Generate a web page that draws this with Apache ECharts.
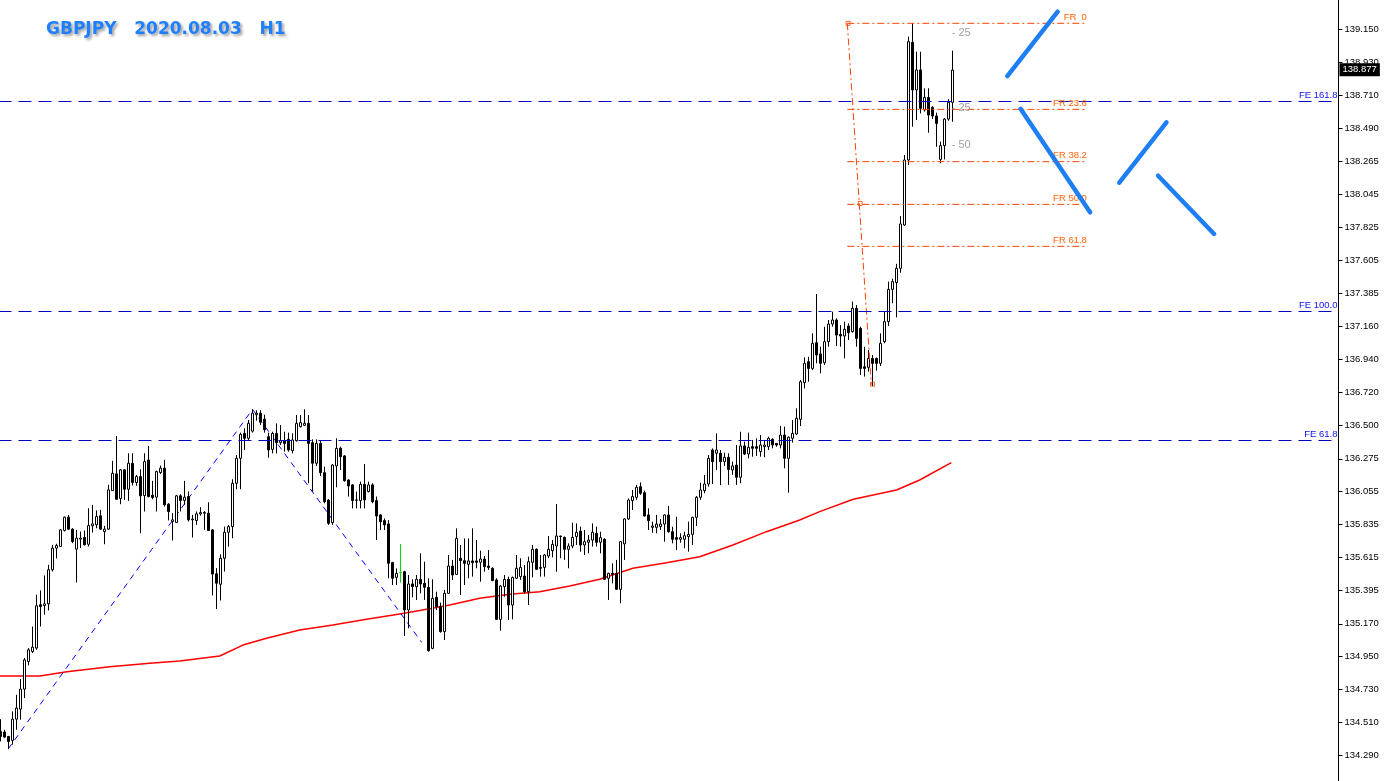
<!DOCTYPE html>
<html>
<head>
<meta charset="utf-8">
<script src="https://cdn.jsdelivr.net/npm/echarts@6/dist/echarts.min.js"></script>
<style>
html,body{margin:0;padding:0;background:#ffffff;overflow:hidden;}
#chart{position:absolute;left:-2px;top:0;width:1390px;height:781px;}
</style>
</head>
<body>
<div id="chart"></div>
<script>
// ---------- data ----------
const titleText = 'GBPJPY   2020.08.03   H1';
const tickLabels = ['134.290','134.510','134.730','134.950','135.170','135.395','135.615','135.835','136.055','136.275','136.500','136.720','136.940','137.160','137.385','137.605','137.825','138.045','138.265','138.490','138.710','138.930','139.150'];

const opens = [
134.450,134.446,134.416,134.390,134.532,134.599,134.733,134.918,134.985,135.008,
135.298,135.293,135.304,135.532,135.677,135.688,135.795,135.884,135.804,135.670,
135.737,135.748,135.703,135.826,135.833,135.893,135.788,135.804,136.062,136.174,
136.009,136.201,136.071,136.245,136.116,136.156,136.029,136.267,136.031,136.018,
136.183,136.212,135.971,135.855,135.848,136.027,135.996,136.022,135.871,135.862,
135.906,135.915,135.911,135.799,135.505,135.435,135.609,135.783,135.821,136.111,
136.278,136.445,136.412,136.460,136.570,136.580,136.540,136.423,136.338,136.445,
136.383,136.396,136.405,136.329,136.396,136.490,136.499,136.512,136.383,136.245,
136.378,136.182,135.999,135.847,136.227,136.345,136.294,136.133,136.100,135.997,
135.995,136.104,136.055,136.100,135.995,135.899,135.861,135.839,135.580,135.481,
135.515,135.519,135.263,135.437,135.419,135.468,135.441,135.414,135.006,135.348,
135.285,135.118,135.374,135.557,135.501,135.609,135.593,135.568,135.591,135.591,
135.582,135.604,135.557,135.542,135.464,135.200,135.419,135.468,135.296,135.475,
135.486,135.490,135.385,135.582,135.669,135.548,135.548,135.624,135.660,135.691,
135.758,135.749,135.669,135.691,135.754,135.791,135.698,135.716,135.731,135.776,
135.716,135.736,135.475,135.508,135.508,135.401,135.705,135.872,135.995,136.017,
136.088,136.048,135.899,135.816,135.816,135.821,135.838,135.899,135.787,135.747,
135.736,135.736,135.754,135.769,135.883,136.017,136.062,136.106,136.334,136.312,
136.312,136.256,136.285,136.200,136.233,136.151,136.361,136.307,136.356,136.356,
136.323,136.356,136.356,136.405,136.378,136.367,136.434,136.278,136.412,136.441,
136.539,136.785,136.925,136.880,137.052,136.977,136.918,137.059,137.177,137.204,
137.108,137.097,137.164,137.126,137.282,137.148,136.891,136.887,136.947,136.947,
136.914,137.059,137.193,137.409,137.455,137.550,137.840,138.275,139.063,138.744,
138.878,138.610,138.694,138.627,138.570,138.279,138.371,138.549,138.661];

const closes = [
134.416,134.412,134.383,134.532,134.606,134.733,134.929,134.996,135.014,135.291,
135.286,135.304,135.532,135.677,135.695,135.799,135.884,135.804,135.721,135.744,
135.744,135.699,135.828,135.839,135.888,135.804,135.804,136.067,136.178,136.004,
136.201,136.071,136.245,136.116,136.156,136.027,136.256,136.022,136.016,136.189,
136.212,135.967,135.922,135.866,136.027,135.996,136.018,135.866,135.866,135.906,
135.915,135.911,135.795,135.503,135.442,135.609,135.783,135.821,136.111,136.278,
136.439,136.412,136.512,136.580,136.580,136.520,136.470,136.334,136.445,136.383,
136.396,136.378,136.334,136.401,136.512,136.517,136.512,136.378,136.245,136.378,
136.182,135.988,135.843,136.233,136.345,136.289,136.128,136.093,135.995,136.000,
136.104,136.000,136.100,135.988,135.892,135.854,135.832,135.575,135.475,135.508,
135.512,135.263,135.437,135.419,135.468,135.437,135.415,134.990,135.341,135.285,
135.118,135.374,135.557,135.497,135.742,135.593,135.575,135.591,135.580,135.582,
135.604,135.553,135.548,135.459,135.200,135.423,135.468,135.296,135.481,135.542,
135.548,135.385,135.586,135.669,135.535,135.542,135.631,135.669,135.702,135.758,
135.754,135.669,135.691,135.749,135.783,135.698,135.720,135.731,135.783,135.716,
135.747,135.468,135.508,135.501,135.401,135.720,135.872,135.999,136.022,136.084,
136.044,135.892,135.861,135.825,135.838,135.838,135.899,135.787,135.736,135.736,
135.747,135.760,135.769,135.883,136.017,136.066,136.106,136.278,136.256,136.334,
136.256,136.285,136.204,136.227,136.151,136.361,136.307,136.352,136.345,136.345,
136.367,136.367,136.412,136.367,136.367,136.434,136.278,136.419,136.445,136.546,
136.791,136.914,136.880,137.048,136.970,136.914,137.059,137.177,137.204,137.103,
137.097,137.142,137.119,137.282,137.081,136.880,136.880,136.947,136.914,136.914,
137.048,137.193,137.409,137.461,137.550,137.847,138.275,139.067,138.744,138.878,
138.621,138.694,138.576,138.570,138.520,138.371,138.549,138.661,138.877];

const lows = [
134.383,134.405,134.331,134.361,134.461,134.528,134.673,134.892,134.974,134.996,
135.152,135.231,135.260,135.520,135.608,135.688,135.788,135.799,135.710,135.447,
135.677,135.695,135.688,135.781,135.810,135.799,135.703,135.799,136.062,136.000,
135.971,136.000,135.993,136.096,136.094,135.777,135.922,136.016,136.004,135.922,
136.174,135.955,135.862,135.728,135.848,135.922,135.967,135.855,135.748,135.833,
135.895,135.799,135.793,135.360,135.269,135.326,135.520,135.687,135.743,136.071,
136.071,136.334,136.401,136.450,136.530,136.500,136.450,136.282,136.311,136.311,
136.367,136.323,136.323,136.311,136.390,136.485,136.494,136.111,136.055,136.227,
136.160,135.977,135.832,135.832,136.084,136.200,136.122,136.022,135.943,135.943,
135.943,135.943,136.050,135.977,135.731,135.798,135.798,135.475,135.430,135.430,
135.446,135.089,135.140,135.348,135.330,135.374,135.330,134.984,135.000,135.263,
135.111,135.062,135.370,135.464,135.497,135.363,135.430,135.475,135.486,135.542,
135.452,135.519,135.531,135.457,135.196,135.124,135.352,135.196,135.200,135.470,
135.464,135.374,135.296,135.481,135.530,135.486,135.486,135.609,135.615,135.519,
135.609,135.598,135.542,135.676,135.698,135.653,135.631,135.642,135.687,135.687,
135.642,135.464,135.330,135.441,135.397,135.308,135.598,135.865,135.932,136.000,
136.033,135.888,135.798,135.780,135.776,135.798,135.720,135.780,135.709,135.664,
135.713,135.676,135.653,135.698,135.825,136.000,136.044,136.088,136.106,136.200,
136.099,136.227,136.100,136.167,136.100,136.111,136.300,136.278,136.289,136.294,
136.289,136.285,136.334,136.345,136.356,136.345,136.211,136.048,136.383,136.435,
136.494,136.746,136.791,136.869,136.914,136.847,136.903,137.025,137.159,137.030,
137.025,136.947,137.070,137.119,137.025,136.836,136.825,136.858,136.762,136.865,
136.896,137.048,137.164,137.316,137.222,137.520,137.833,138.241,138.498,138.543,
138.587,138.599,138.458,138.550,138.364,138.253,138.279,138.538,138.531];

const highs = [
134.532,134.461,134.420,134.584,134.695,134.800,134.941,135.008,135.152,135.365,
135.394,135.494,135.565,135.699,135.706,135.805,135.888,135.899,135.810,135.799,
135.788,135.795,135.944,135.966,135.929,135.933,135.826,136.100,136.261,136.428,
136.207,136.205,136.312,136.312,136.167,136.205,136.312,136.361,136.127,136.196,
136.230,136.268,135.978,135.911,136.033,136.038,136.127,136.056,135.899,135.922,
135.951,135.925,135.984,135.805,135.543,135.635,135.821,135.832,136.138,136.300,
136.450,136.479,136.535,136.606,136.600,136.600,136.570,136.450,136.456,136.512,
136.501,136.456,136.450,136.445,136.568,136.568,136.606,136.568,136.405,136.405,
136.401,136.222,136.005,136.240,136.412,136.356,136.300,136.137,136.105,136.055,
136.122,136.240,136.122,136.111,136.022,135.905,135.876,135.865,135.585,135.541,
135.704,135.525,135.497,135.468,135.497,135.642,135.586,135.475,135.468,135.385,
135.312,135.397,135.631,135.598,135.809,135.698,135.742,135.742,135.809,135.731,
135.660,135.624,135.664,135.548,135.475,135.430,135.497,135.486,135.486,135.631,
135.609,135.564,135.620,135.698,135.675,135.631,135.638,135.758,135.731,135.972,
135.760,135.754,135.709,135.847,135.843,135.821,135.798,135.765,135.843,135.821,
135.787,135.743,135.512,135.575,135.598,135.725,135.876,136.010,136.066,136.100,
136.117,136.062,135.943,135.854,135.899,135.872,135.903,135.959,135.820,135.887,
135.776,135.787,135.854,135.887,136.026,136.115,136.166,136.300,136.345,136.445,
136.334,136.316,136.312,136.256,136.367,136.456,136.390,136.450,136.401,136.412,
136.434,136.401,136.423,136.412,136.380,136.495,136.490,136.425,136.535,136.613,
136.802,136.954,136.958,137.115,137.378,137.025,137.159,137.204,137.260,137.215,
137.170,137.193,137.182,137.327,137.304,137.159,137.025,137.003,136.970,136.952,
137.115,137.260,137.461,137.480,137.580,137.900,138.308,139.101,139.190,139.000,
139.000,138.755,138.755,138.635,138.592,138.398,138.555,138.683,139.007];

const highlightBar = 100;          // the green bar
const slotCount = 335;             // bars + empty future space
const lastPrice = 138.877;

// moving average, read at sample bars
const maBars   = [-0.3, 9.8, 16.6, 27.3, 37.3, 44.8, 54.8, 60.6, 66.5, 74.8, 83.1, 91.5, 99.8, 104.8, 112.3, 119.8, 127.3, 134.8, 142.3, 149.8, 158.1, 166.5, 174.8, 183.1, 191.5, 199.8, 204.8, 213.2, 224.0, 229.8, 237.7];
const maValues = [134.821,134.821,134.850,134.883,134.906,134.921,134.955,135.028,135.073,135.129,135.162,135.200,135.236,135.259,135.296,135.341,135.368,135.385,135.423,135.468,135.542,135.579,135.619,135.698,135.787,135.865,135.921,136.004,136.066,136.133,136.249];

// Fibonacci expansion levels
const feLevels = [138.672, 137.264, 136.396];
const feNames  = ['FE 161.8', 'FE 100.0', 'FE 61.8'];

// Fibonacci retracement levels
const frLevels = [139.190, 138.614, 138.264, 137.978, 137.697];
const frNames  = ['FR  0', 'FR 23.6', 'FR 38.2', 'FR 50.0', 'FR 61.8'];
const frStartBar = 211.7, frEndBar = 271.6;
const fibTrend   = [[211.7, 139.19], [217.7, 136.77]];
const fibAnchors = [[211.9, 139.19], [214.9, 137.984], [218.0, 136.774]];

// zigzag of the expansion (A-B-C)
const zigzag = [[1.9, 134.332], [63.0, 136.606], [105.3, 135.046]];

// hand-drawn projection strokes
const handStrokes = [
  [[251.7, 138.837], [264.3, 139.268]],
  [[255.0, 138.618], [272.4, 137.925]],
  [[279.7, 138.123], [291.5, 138.527]],
  [[289.4, 138.170], [303.4, 137.780]]
];

// round-level tags
const roundLevels = [139.125, 138.625, 138.375];
const roundNames  = ['- 25', '- 25', '- 50'];
const roundBar = 237.8;

// ---------- build ----------
const categories = [];
for (let i = 0; i < slotCount; i++) categories.push(String(i));

const bull = '#ffffff', bear = '#000000', edge = '#000000', green = '#00dd00';
const candleData = opens.map((o, i) => {
  const item = { value: [o, closes[i], lows[i], highs[i]] };
  if (i === highlightBar) {
    item.itemStyle = { color: green, color0: green, borderColor: green, borderColor0: green, borderColorDoji: green };
  }
  return item;
});

// vertical scale: ticks are 33 px apart, top tick sits 29.3 px below the top edge
const tickVals = tickLabels.map(Number);
const tickStep = (tickVals[tickVals.length - 1] - tickVals[0]) / (tickVals.length - 1);
const perPx = tickStep / 33;
const yMax = tickVals[tickVals.length - 1] + 29.3 * perPx;
const yMin = tickVals[0] - (781 - (29.3 + 33 * (tickVals.length - 1))) * perPx;

const smallFont = 'Liberation Sans';
const fibColor = '#ff4500';

const series = [];

series.push({
  type: 'candlestick',
  xAxisIndex: 0, yAxisIndex: 0,
  data: candleData,
  barWidth: 2,
  silent: true,
  itemStyle: { color: bull, color0: bear, borderColor: edge, borderColor0: edge, borderColorDoji: edge, borderWidth: 1 },
  markLine: {
    silent: true,
    symbol: 'none',
    animation: false,
    data: feLevels.map((v, i) => ({
      yAxis: v,
      lineStyle: { color: '#0000c0', width: 1, type: [13, 7] },
      label: { show: true, position: 'insideEndTop', formatter: feNames[i], color: '#1010ff', fontFamily: smallFont, fontSize: 9.5, distance: [1, 1] }
    })).concat([{
      yAxis: lastPrice,
      lineStyle: { color: 'rgba(0,0,0,0)', width: 1, type: 'solid' },
      label: { show: true, position: 'end', formatter: lastPrice.toFixed(3), color: '#ffffff', backgroundColor: '#000000', fontFamily: smallFont, fontSize: 9.5, padding: [2, 3, 1, 3], distance: 1 }
    }])
  },
  z: 3
});

series.push({
  type: 'line', xAxisIndex: 1, yAxisIndex: 0, silent: true, symbol: 'none',
  data: maBars.map((b, i) => [b, maValues[i]]),
  lineStyle: { color: '#ff0000', width: 1.5 },
  z: 2
});

series.push({
  type: 'line', xAxisIndex: 1, yAxisIndex: 0, silent: true, symbol: 'none',
  data: zigzag,
  lineStyle: { color: '#0000ff', width: 1, type: [6, 5] },
  z: 2
});

frLevels.forEach(v => {
  series.push({
    type: 'line', xAxisIndex: 1, yAxisIndex: 0, silent: true, symbol: 'none',
    data: [[frStartBar, v], [frEndBar, v]],
    lineStyle: { color: fibColor, width: 1, type: [7, 3, 2, 3] },
    z: 4
  });
});

series.push({
  type: 'line', xAxisIndex: 1, yAxisIndex: 0, silent: true, symbol: 'none',
  data: fibTrend,
  lineStyle: { color: fibColor, width: 1, type: [7, 3, 2, 3] },
  z: 4
});

series.push({
  type: 'scatter', xAxisIndex: 1, yAxisIndex: 0, silent: true,
  symbol: 'rect', symbolSize: 4,
  data: fibAnchors,
  itemStyle: { color: 'rgba(0,0,0,0)', borderColor: fibColor, borderWidth: 1 },
  z: 5
});

series.push({
  type: 'scatter', xAxisIndex: 1, yAxisIndex: 0, silent: true,
  symbolSize: 0,
  data: frLevels.map(v => [frEndBar, v]),
  label: {
    show: true, position: 'left', distance: 0, offset: [0, -6],
    formatter: p => frNames[p.dataIndex],
    color: fibColor, fontFamily: smallFont, fontSize: 9.5,
    textBorderColor: 'rgba(255,225,120,0.35)', textBorderWidth: 1
  },
  z: 6
});

series.push({
  type: 'scatter', xAxisIndex: 1, yAxisIndex: 0, silent: true,
  symbolSize: 0,
  data: roundLevels.map(v => [roundBar, v]),
  label: {
    show: true, position: 'right', distance: 0,
    formatter: p => roundNames[p.dataIndex],
    color: '#8a8a8a', fontFamily: smallFont, fontSize: 11
  },
  z: 6
});

handStrokes.forEach(seg => {
  series.push({
    type: 'line', xAxisIndex: 1, yAxisIndex: 0, silent: true, symbol: 'none',
    data: seg,
    lineStyle: { color: '#1e7ef4', width: 4.5, cap: 'round' },
    z: 7
  });
});

const chart = echarts.init(document.getElementById('chart'), null, { renderer: 'canvas' });
chart.setOption({
  animation: false,
  backgroundColor: '#ffffff',
  title: {
    text: titleText,
    left: 48, top: 21, padding: 0,
    textStyle: {
      color: '#1e80ff', fontFamily: 'DejaVu Sans', fontWeight: 'bold', fontSize: 17,
      textShadowColor: 'rgba(0,0,0,0.4)', textShadowBlur: 3, textShadowOffsetX: 2, textShadowOffsetY: 2
    }
  },
  grid: { left: 0.5, right: 49.5, top: 0, bottom: 0, containLabel: false },
  xAxis: [
    { type: 'category', data: categories, boundaryGap: true, show: false },
    { type: 'value', min: -0.5, max: slotCount - 0.5, show: false }
  ],
  yAxis: [{
    type: 'value',
    position: 'right',
    min: yMin, max: yMax,
    scale: true,
    splitLine: { show: false },
    axisLine: { show: true, onZero: false, lineStyle: { color: '#000000', width: 1 } },
    axisTick: { show: true, length: 4, lineStyle: { color: '#000000' }, customValues: tickVals },
    axisLabel: {
      show: true, margin: 6, color: '#000000', fontFamily: smallFont, fontSize: 9.5,
      customValues: tickVals,
      formatter: v => {
        let best = '';
        for (let i = 0; i < tickVals.length; i++) if (Math.abs(tickVals[i] - v) < 0.01) best = tickLabels[i];
        return best;
      }
    }
  }],
  series: series
});
</script>
</body>
</html>
